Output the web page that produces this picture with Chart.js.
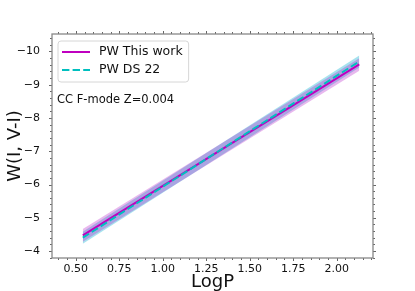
<!DOCTYPE html>
<html>
<head>
<meta charset="utf-8">
<script src="https://cdn.jsdelivr.net/npm/chart.js@4/dist/chart.umd.min.js"></script>
<style>
  body { margin: 0; background: #fff; }
  canvas { display: block; }
</style>
</head>
<body>
<canvas id="plChart" width="415" height="291"></canvas>
<script>
// Values
const logP = [0.54, 2.13];
const wThisWork = [-4.47, -9.61];
const wThisWorkErr = [0.19, 0.19];
const wDS22 = [-4.40, -9.70];
const wDS22Err = [0.18, 0.18];
const xTicks = [0.5, 0.75, 1.0, 1.25, 1.5, 1.75, 2.0];
const yTicks = [-10, -9, -8, -7, -6, -5, -4];
const seriesNames = ['PW This work', 'PW DS 22'];
const noteText = 'CC F-mode Z=0.004';

const FONT = "'DejaVu Sans', sans-serif";
const MAG = '#bf00bf';
const CYAN = '#00bfbf';

function pts(ys, errs, sign) {
    return logP.map((x, i) => ({ x: x, y: ys[i] + sign * errs[i] }));
}

// frame, matplotlib style ticks, legend box and note
const decorations = {
    id: 'decorations',
    afterDraw(chart) {
        const { ctx, chartArea: a, scales: { x, y } } = chart;
        ctx.save();
        ctx.strokeStyle = '#666';
        ctx.lineWidth = 1;

        // ticks on all four sides, pointing out
        const tick = (px, py, dx, dy) => {
            ctx.beginPath();
            ctx.moveTo(px, py);
            ctx.lineTo(px + dx, py + dy);
            ctx.stroke();
        };
        for (let k = Math.ceil(x.min / 0.05); k <= Math.floor(x.max / 0.05); k++) {
            const v = k * 0.05;
            const len = k % 5 === 0 ? 3 : 2;
            const px = Math.round(x.getPixelForValue(v)) + 0.5;
            tick(px, a.bottom, 0, len);
            tick(px, a.top, 0, -len);
        }
        for (let k = Math.ceil(y.min / 0.2); k <= Math.floor(y.max / 0.2); k++) {
            const v = k * 0.2;
            const len = k % 5 === 0 ? 3 : 2;
            const py = Math.round(y.getPixelForValue(v)) + 0.5;
            tick(a.left, py, -len, 0);
            tick(a.right, py, len, 0);
        }
        ctx.strokeStyle = '#888';
        ctx.lineWidth = 1.3;
        ctx.strokeRect(a.left, a.top, a.right - a.left, a.bottom - a.top);

        // legend
        ctx.font = '12.5px ' + FONT;
        const tw = Math.max(...seriesNames.map(s => ctx.measureText(s).width));
        const bx = a.left + 6, by = a.top + 7, bw = 41 + tw + 6, bh = 41;
        ctx.beginPath();
        ctx.roundRect(bx, by, bw, bh, 3);
        ctx.fillStyle = 'rgba(255,255,255,0.85)';
        ctx.fill();
        ctx.strokeStyle = '#d6d6d6';
        ctx.lineWidth = 1;
        ctx.stroke();
        const styles = [
            { color: MAG, dash: [] },
            { color: CYAN, dash: [7.4, 3.2] }
        ];
        seriesNames.forEach((name, i) => {
            const ly = by + 11 + i * 18;
            ctx.beginPath();
            ctx.setLineDash(styles[i].dash);
            ctx.strokeStyle = styles[i].color;
            ctx.lineWidth = 2;
            ctx.moveTo(bx + 4, ly);
            ctx.lineTo(bx + 32, ly);
            ctx.stroke();
            ctx.setLineDash([]);
            ctx.fillStyle = '#111';
            ctx.textBaseline = 'middle';
            ctx.textAlign = 'left';
            ctx.fillText(name, bx + 41, ly);
        });

        // note
        ctx.font = '11.5px ' + FONT;
        ctx.fillStyle = '#111';
        ctx.fillText(noteText, a.left + 5, a.top + 66);
        ctx.restore();
    }
};

new Chart(document.getElementById('plChart'), {
    type: 'line',
    data: {
        datasets: [
            {
                label: 'PW DS 22',
                data: logP.map((x, i) => ({ x: x, y: wDS22[i] })),
                borderColor: CYAN,
                borderWidth: 2,
                borderDash: [7.4, 3.2],
                pointRadius: 0,
                fill: false
            },
            {
                label: 'PW This work',
                data: logP.map((x, i) => ({ x: x, y: wThisWork[i] })),
                borderColor: MAG,
                borderWidth: 2,
                pointRadius: 0,
                fill: false
            },
            {
                label: 'this work upper',
                data: pts(wThisWork, wThisWorkErr, -1),
                borderWidth: 0,
                pointRadius: 0,
                fill: false
            },
            {
                label: 'this work lower',
                data: pts(wThisWork, wThisWorkErr, 1),
                borderWidth: 0,
                pointRadius: 0,
                backgroundColor: 'rgba(180,20,200,0.30)',
                fill: '-1'
            },
            {
                label: 'DS22 upper',
                data: pts(wDS22, wDS22Err, -1),
                borderWidth: 0,
                pointRadius: 0,
                fill: false
            },
            {
                label: 'DS22 lower',
                data: pts(wDS22, wDS22Err, 1),
                borderWidth: 0,
                pointRadius: 0,
                backgroundColor: 'rgba(20,180,210,0.38)',
                fill: '-1'
            }
        ]
    },
    options: {
        responsive: false,
        devicePixelRatio: 1,
        animation: false,
        layout: { padding: { top: 34, right: 42, left: 0, bottom: 0 } },
        plugins: {
            legend: { display: false },
            tooltip: { enabled: false }
        },
        scales: {
            x: {
                type: 'linear',
                min: 0.363,
                max: 2.209,
                afterFit: s => { s.height = 33; },
                afterBuildTicks: s => { s.ticks = xTicks.map(v => ({ value: v })); },
                grid: { display: false },
                border: { display: false },
                ticks: {
                    font: { family: FONT, size: 11, lineHeight: 1 },
                    color: '#111',
                    padding: -2,
                    maxRotation: 0,
                    autoSkip: false,
                    callback: v => v.toFixed(2)
                },
                title: {
                    display: true,
                    text: 'LogP',
                    font: { family: FONT, size: 18, lineHeight: 1 },
                    color: '#111',
                    padding: { top: 0, bottom: 0 }
                }
            },
            y: {
                type: 'linear',
                reverse: true,
                min: -10.526,
                max: -3.79,
                afterFit: s => { s.width = 52; },
                afterBuildTicks: s => { s.ticks = yTicks.map(v => ({ value: v })); },
                grid: { display: false },
                border: { display: false },
                ticks: {
                    font: { family: FONT, size: 11 },
                    color: '#111',
                    padding: 4,
                    callback: v => (v < 0 ? '\u2212' : '') + Math.abs(v)
                },
                title: {
                    display: true,
                    text: 'W(I, V-I)',
                    font: { family: FONT, size: 18, lineHeight: 1 },
                    color: '#111',
                    padding: { top: 6, bottom: 0 }
                }
            }
        }
    },
    plugins: [decorations]
});
</script>
</body>
</html>
